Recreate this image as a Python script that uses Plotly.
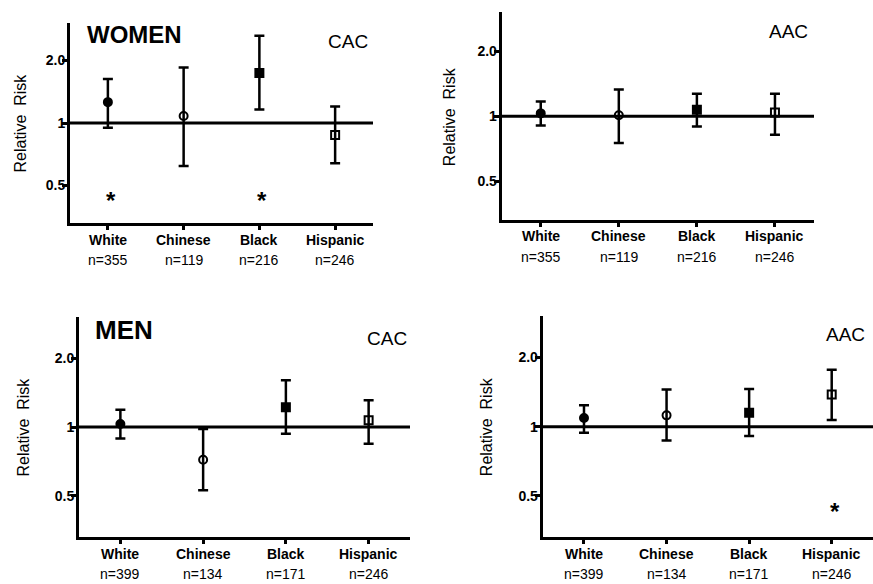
import math
import plotly.graph_objects as go

W, H = 873, 584

categories = ["White", "Chinese", "Black", "Hispanic"]

# Relative risk estimates and 95% CI (lower, upper)
women_cac_rr = [1.26, 1.08, 1.74, 0.875]
women_cac_lo = [0.95, 0.62, 1.16, 0.64]
women_cac_hi = [1.63, 1.85, 2.63, 1.20]
women_cac_n = ["n=355", "n=119", "n=216", "n=246"]
women_cac_star = [True, False, True, False]

women_aac_rr = [1.03, 1.01, 1.07, 1.04]
women_aac_lo = [0.905, 0.75, 0.896, 0.82]
women_aac_hi = [1.17, 1.33, 1.27, 1.27]
women_aac_n = ["n=355", "n=119", "n=216", "n=246"]
women_aac_star = [False, False, False, False]

men_cac_rr = [1.03, 0.72, 1.22, 1.07]
men_cac_lo = [0.89, 0.53, 0.935, 0.846]
men_cac_hi = [1.19, 0.98, 1.60, 1.31]
men_cac_n = ["n=399", "n=134", "n=171", "n=246"]
men_cac_star = [False, False, False, False]

men_aac_rr = [1.09, 1.12, 1.15, 1.38]
men_aac_lo = [0.94, 0.87, 0.91, 1.07]
men_aac_hi = [1.24, 1.45, 1.46, 1.77]
men_aac_n = ["n=399", "n=134", "n=171", "n=246"]
men_aac_star = [False, False, False, True]

star_level = 0.43
marker_symbols = ["circle", "circle-open", "square", "square-open"]

ytick_vals = [0.5, 1, 2]
ytick_text = ["0.5", "1", "2.0"]

FONT = "Arial, Liberation Sans, Helvetica, sans-serif"

# panel geometry in pixels: (x0, x1, ytop, ybottom)
panels = [
    dict(rr=women_cac_rr, lo=women_cac_lo, hi=women_cac_hi, n=women_cac_n, star=women_cac_star,
         box=(70, 373, 23, 223), big="WOMEN", big_pos=(134, 35, 24), small="CAC", small_pos=(347.5, 41.5),
         ytitle_x=19.5),
    dict(rr=women_aac_rr, lo=women_aac_lo, hi=women_aac_hi, n=women_aac_n, star=women_aac_star,
         box=(501.7, 814, 12.3, 220), big=None, big_pos=None, small="AAC", small_pos=(788.5, 31.5),
         ytitle_x=449),
    dict(rr=men_cac_rr, lo=men_cac_lo, hi=men_cac_hi, n=men_cac_n, star=men_cac_star,
         box=(79, 410, 316.7, 537.3), big="MEN", big_pos=(124, 329.5, 26), small="CAC", small_pos=(387, 338),
         ytitle_x=23.5),
    dict(rr=men_aac_rr, lo=men_aac_lo, hi=men_aac_hi, n=men_aac_n, star=men_aac_star,
         box=(542.7, 873, 316.0, 537.3), big=None, big_pos=None, small="AAC", small_pos=(845.5, 334),
         ytitle_x=486.5),
]

fig = go.Figure()
annotations = []
shapes = []
layout_axes = {}

for i, p in enumerate(panels):
    k = "" if i == 0 else str(i + 1)
    xa, ya = "x" + k, "y" + k
    x0, x1, yt, yb = p["box"]
    xs = list(range(len(categories)))
    for j in xs:
        fig.add_trace(go.Scatter(
            x=[j], y=[p["rr"][j]], xaxis=xa, yaxis=ya, mode="markers",
            marker=dict(symbol=marker_symbols[j], size=8, color="black",
                        line=dict(color="black", width=2)),
            error_y=dict(type="data", symmetric=False,
                         array=[p["hi"][j] - p["rr"][j]],
                         arrayminus=[p["rr"][j] - p["lo"][j]],
                         thickness=2.5, width=5, color="black"),
            showlegend=False, hoverinfo="skip"))
    layout_axes["xaxis" + k] = dict(
        domain=[x0 / W, min(x1 / W, 1)], range=[-0.5, 3.5], anchor=ya,
        showline=True, linewidth=3, linecolor="black", showgrid=False, zeroline=False,
        tickvals=xs, ticks="outside", ticklen=4, tickwidth=2.5, tickcolor="black",
        showticklabels=False, fixedrange=True)
    layout_axes["yaxis" + k] = dict(
        domain=[1 - yb / H, 1 - yt / H], type="log", range=[-0.4816, 0.4816], anchor=xa,
        showline=True, linewidth=3, linecolor="black", showgrid=False, zeroline=False,
        tickvals=ytick_vals, ticktext=["<b>%s</b>" % t for t in ytick_text],
        ticks="outside", ticklen=5, tickwidth=2.5, tickcolor="black",
        tickfont=dict(family=FONT, size=14, color="black"), ticklabelstandoff=-6,
        fixedrange=True)
    # reference line at RR = 1
    shapes.append(dict(type="line", xref=xa + " domain", yref=ya, x0=0, x1=1, y0=1, y1=1,
                       line=dict(color="black", width=3)))
    # category labels and n
    for j, c in enumerate(categories):
        annotations.append(dict(x=j, y=0, xref=xa, yref=ya + " domain", text="<b>%s</b>" % c,
                                showarrow=False, yanchor="middle", yshift=-16.5,
                                font=dict(family=FONT, size=14, color="black")))
        annotations.append(dict(x=j, y=0, xref=xa, yref=ya + " domain", text=p["n"][j],
                                showarrow=False, yanchor="middle", yshift=-37,
                                font=dict(family=FONT, size=14, color="black")))
        if p["star"][j]:
            annotations.append(dict(x=j, y=math.log10(star_level), xref=xa, yref=ya, text="<b>*</b>",
                                    showarrow=False, yanchor="middle", xshift=3, yshift=-1,
                                    font=dict(family=FONT, size=24, color="black")))
    # y title
    annotations.append(dict(x=p["ytitle_x"] / W, y=0.5, xref="paper", yref=ya + " domain",
                            text="Relative\u00a0 Risk", textangle=-90, showarrow=False,
                            xanchor="center", yanchor="middle",
                            font=dict(family=FONT, size=16, color="black")))
    if p["big"]:
        bx, by, bs = p["big_pos"]
        annotations.append(dict(x=bx / W, y=1 - by / H, xref="paper", yref="paper",
                                text="<b>%s</b>" % p["big"], showarrow=False,
                                xanchor="center", yanchor="middle",
                                font=dict(family=FONT, size=bs, color="black")))
    sx, sy = p["small_pos"]
    annotations.append(dict(x=sx / W, y=1 - sy / H, xref="paper", yref="paper",
                            text=p["small"], showarrow=False, xanchor="center", yanchor="middle",
                            font=dict(family=FONT, size=19, color="black")))

fig.update_layout(
    width=W, height=H, margin=dict(l=0, r=0, t=0, b=0),
    paper_bgcolor="white", plot_bgcolor="white",
    annotations=annotations, shapes=shapes, showlegend=False,
    **layout_axes)

fig.write_html("out.html", config={"displayModeBar": False})
